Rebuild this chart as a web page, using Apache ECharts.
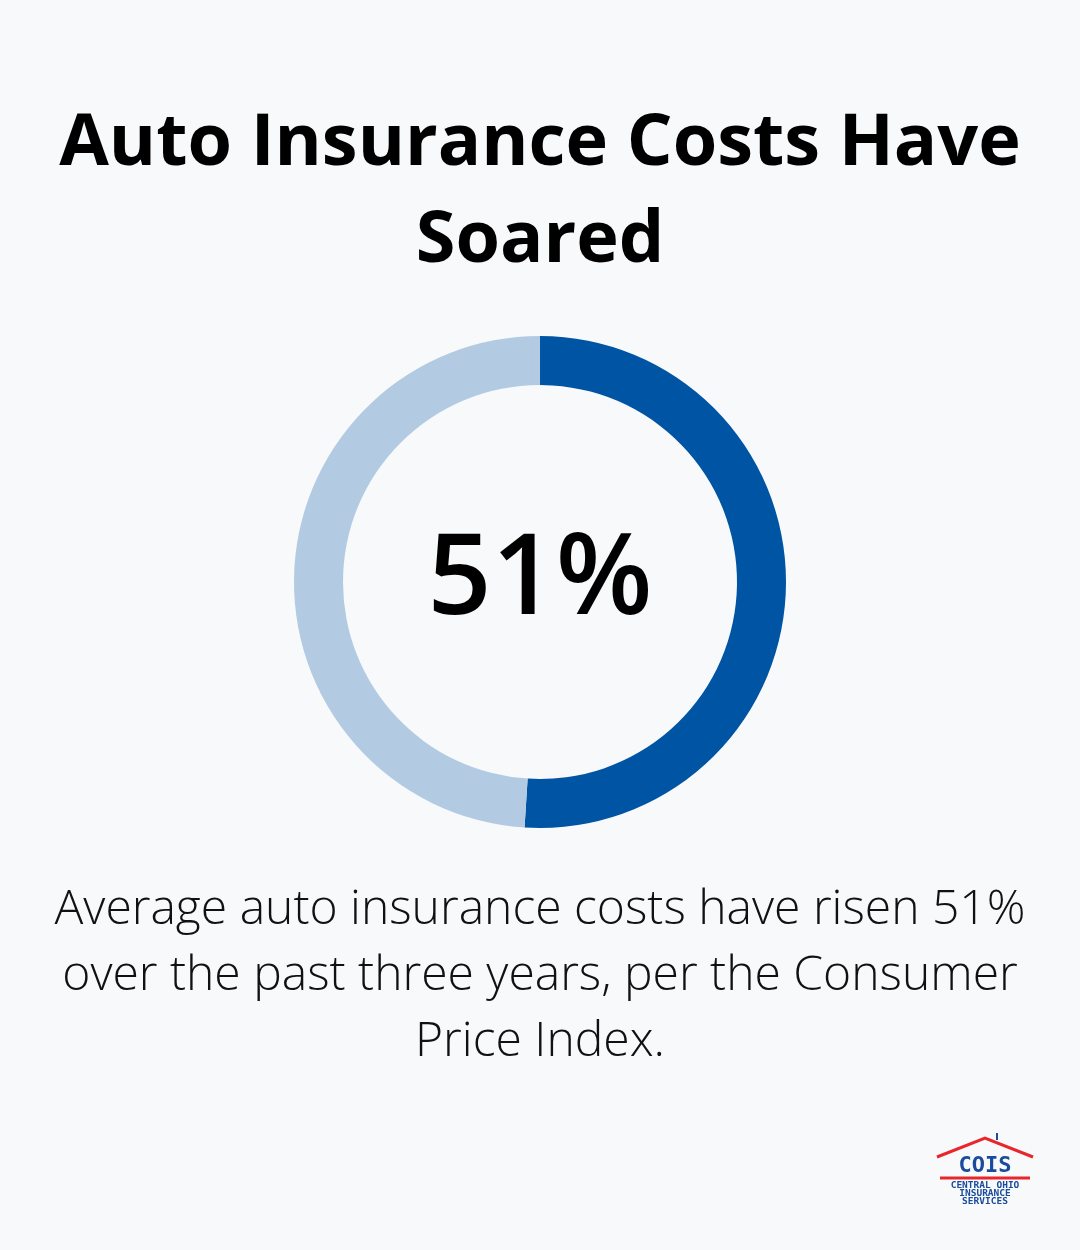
<!DOCTYPE html>
<html><head><meta charset="utf-8">
<script src="https://cdn.jsdelivr.net/npm/echarts@6/dist/echarts.min.js"></script>
<style>html,body{margin:0;background:#f7f9fb}#c{width:1080px;height:1250px}</style>
</head><body><div id="c"></div>
<script>
var categories = ['Increase', 'Rest'];
var values = [51, 49];
var colors = ['#0054a4', '#b3cbe2'];
var bodyLines = ['Average auto insurance costs have risen 51%', 'over the past three years, per the Consumer', 'Price Index.'];

var chart = echarts.init(document.getElementById('c'));
var graphic = [
	{type:'text', left:'center', top:96, style:{text:'Auto Insurance Costs Have\nSoared', font:'bold 72px "Open Sans"', fill:'#000', textAlign:'center', lineHeight:97}},
	{type:'text', left:'center', top:526, style:{text:values[0]+'%', font:'600 112px "Open Sans"', fill:'#000'}}
];
bodyLines.forEach(function(t, i){
	graphic.push({type:'text', left:'center', top:886+i*66, style:{text:t, font:'300 48px "Open Sans"', fill:'#111'}});
});
// logo
graphic.push(
	{type:'polyline', shape:{points:[[937,1157],[985,1138],[1033,1157]]}, style:{stroke:'#e8262b', lineWidth:3, fill:null}},
	{type:'line', shape:{x1:997,y1:1133,x2:997,y2:1140}, style:{stroke:'#1a4b9c', lineWidth:2}},
	{type:'text', x:985, y:1155, style:{text:'COIS', font:'bold 22px "DejaVu Sans Mono"', fill:'#1a4b9c', textAlign:'center'}},
	{type:'line', shape:{x1:940,y1:1178,x2:1030,y2:1178}, style:{stroke:'#e8262b', lineWidth:3}},
	{type:'text', x:985, y:1182, style:{text:'CENTRAL OHIO\nINSURANCE\nSERVICES', font:'bold 9.5px "DejaVu Sans Mono"', fill:'#1a4b9c', textAlign:'center', lineHeight:8}}
);

chart.setOption({
	backgroundColor:'#f7f9fb',
	animation:false,
	graphic:graphic,
	series:[{
		type:'pie',
		center:[540,582],
		radius:[197,246],
		startAngle:90,
		clockwise:true,
		label:{show:false},
		labelLine:{show:false},
		data:categories.map(function(c,i){
			return {name:c, value:values[i], itemStyle:{color:colors[i]}};
		})
	}]
});
</script></body></html>
